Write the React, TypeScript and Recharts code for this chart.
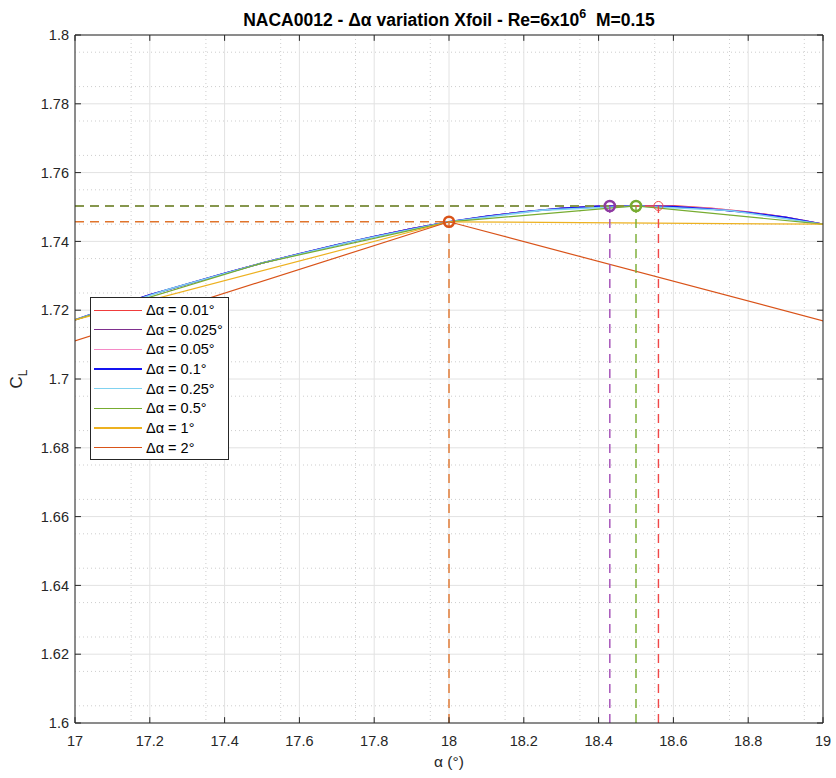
import React from 'react';
import {
  ComposedChart,
  Line,
  XAxis,
  YAxis,
  CartesianGrid,
  ReferenceLine,
  ReferenceDot,
  Legend,
  Label,
} from 'recharts';

const FONT = '"Liberation Sans", Arial, Helvetica, sans-serif';
const AXIS = '#262626';

// ---- axes ----
const xTicks = [17, 17.2, 17.4, 17.6, 17.8, 18, 18.2, 18.4, 18.6, 18.8, 19];
const yTicks = [1.6, 1.62, 1.64, 1.66, 1.68, 1.7, 1.72, 1.74, 1.76, 1.78, 1.8];
const xMinor = [
  17.05, 17.1, 17.15, 17.25, 17.3, 17.35, 17.45, 17.5, 17.55, 17.65, 17.7, 17.75,
  17.85, 17.9, 17.95, 18.05, 18.1, 18.15, 18.25, 18.3, 18.35, 18.45, 18.5, 18.55,
  18.65, 18.7, 18.75, 18.85, 18.9, 18.95,
];
const yMinor = [
  1.605, 1.61, 1.615, 1.625, 1.63, 1.635, 1.645, 1.65, 1.655, 1.665, 1.67, 1.675,
  1.685, 1.69, 1.695, 1.705, 1.71, 1.715, 1.725, 1.73, 1.735, 1.745, 1.75, 1.755,
  1.765, 1.77, 1.775, 1.785, 1.79, 1.795,
];

// ---- series data (alpha in deg, CL) ----
const alphaFine = [17, 17.1, 17.2, 17.3, 17.4, 17.5, 17.6, 17.7, 17.8, 17.9, 18, 18.1, 18.2, 18.3, 18.4, 18.5, 18.6, 18.7, 18.8, 18.9, 19];
const clDa001 = [1.7172, 1.7209, 1.7245, 1.7276, 1.7307, 1.7337, 1.7364, 1.739, 1.7414, 1.7437, 1.7457, 1.7473, 1.7486, 1.7496, 1.7502, 1.7504, 1.7504, 1.7497, 1.7486, 1.7471, 1.745];
const clDa0025 = [1.7172, 1.7209, 1.7245, 1.7276, 1.7307, 1.7337, 1.7364, 1.739, 1.7414, 1.7437, 1.7457, 1.7473, 1.7486, 1.7496, 1.7503, 1.7503, 1.75, 1.7494, 1.7484, 1.747, 1.745];
const clDa005 = [1.7172, 1.7209, 1.7245, 1.7276, 1.7307, 1.7337, 1.7364, 1.739, 1.7414, 1.7437, 1.7457, 1.7473, 1.7486, 1.7496, 1.7502, 1.7504, 1.7502, 1.7496, 1.7485, 1.7471, 1.745];
const clDa01 = [1.7172, 1.7209, 1.7245, 1.7276, 1.7307, 1.7337, 1.7364, 1.739, 1.7414, 1.7437, 1.7457, 1.7473, 1.7486, 1.7496, 1.7502, 1.7503, 1.7501, 1.7494, 1.7484, 1.747, 1.745];
const alphaQuarter = [17, 17.25, 17.5, 17.75, 18, 18.25, 18.5, 18.75, 19];
const clDa025 = [1.7172, 1.7261, 1.7337, 1.7402, 1.7457, 1.7491, 1.7503, 1.749, 1.745];
const alphaHalf = [17, 17.5, 18, 18.5, 19];
const clDa05 = [1.7172, 1.7337, 1.7457, 1.7503, 1.745];
const alphaOne = [17, 18, 19];
const clDa1 = [1.7172, 1.7457, 1.745];
const alphaTwo = [16, 18, 20];
const clDa2 = [1.6765, 1.7457, 1.6881];

const seriesNames = ['Δα = 0.01°', 'Δα = 0.025°', 'Δα = 0.05°', 'Δα = 0.1°', 'Δα = 0.25°', 'Δα = 0.5°', 'Δα = 1°', 'Δα = 2°'];
const seriesAlpha = [alphaFine, alphaFine, alphaFine, alphaFine, alphaQuarter, alphaHalf, alphaOne, alphaTwo];
const seriesCl = [clDa001, clDa0025, clDa005, clDa01, clDa025, clDa05, clDa1, clDa2];
const seriesColors = ['#F03C3C', '#7E2F8E', '#F58AC6', '#1414F0', '#80D2F0', '#77AC30', '#EDB120', '#D95319'];
const seriesWidths = [1.2, 1.2, 1.2, 1.6, 1.6, 1.2, 1.2, 1.2];

// ---- CL max markers ----
const peakAlpha = [18.56, 18.43, 18.5, 18];
const peakCl = [1.7503, 1.7503, 1.7503, 1.7457];
const peakColors = ['#F04848', '#8E3AA2', '#77AC30', '#D95319'];
const peakLineColors = ['#F04848', '#A24BB5', '#77AC30', '#E0742C'];
const peakStroke = [1, 2.6, 2.6, 2.6];

const toPoints = (a: number[], c: number[]) => a.map((v, i) => ({ a: v, cl: c[i] }));

const renderLegend = () => (
  <div
    style={{
      boxSizing: 'border-box',
      width: 139,
      height: 163,
      border: `1px solid ${AXIS}`,
      background: '#fff',
      position: 'relative',
      fontFamily: FONT,
      fontSize: 14.5,
      color: '#000',
    }}
  >
    {seriesNames.map((n, i) => (
      <div
        key={n}
        style={{ position: 'absolute', left: 0, top: 2 + i * 19.66, height: 20, width: 137 }}
      >
        <div
          style={{
            position: 'absolute',
            left: 3,
            top: 9.5,
            width: 48,
            height: 1.2,
            background: seriesColors[i],
          }}
        />
        <div style={{ position: 'absolute', left: 55, top: 1, lineHeight: '18px', whiteSpace: 'pre' }}>{n}</div>
      </div>
    ))}
  </div>
);

const renderYLabel = (props: any) => {
  const vb = props.viewBox || { x: 0, y: 35, width: 75, height: 688 };
  const cx = 22;
  const cy = vb.y + vb.height / 2;
  return (
    <text
      x={cx}
      y={cy}
      textAnchor="middle"
      transform={`rotate(-90 ${cx} ${cy})`}
      fill={AXIS}
      fontFamily={FONT}
      fontSize={17}
    >
      <tspan>C</tspan>
      <tspan fontSize={12} dy={5}>L</tspan>
    </text>
  );
};

export default function App() {
  const tickStyle = { fontSize: 14.5, fill: AXIS, fontFamily: FONT };
  const tx = 0.016;
  const ty = 0.0017;
  return (
    <div style={{ position: 'absolute', left: 0, top: 0, width: 836, height: 778, background: '#fff' }}>
      <ComposedChart width={836} height={778} margin={{ top: 35, right: 13, left: 0, bottom: 0 }}>
        <CartesianGrid
          verticalValues={xMinor}
          horizontalValues={yMinor}
          stroke="#cdcdcd"
          strokeDasharray="1 3"
          strokeWidth={1}
        />
        <CartesianGrid stroke="#e2e2e2" strokeWidth={1} />
        <XAxis
          dataKey="a"
          type="number"
          domain={[17, 19]}
          ticks={xTicks}
          allowDataOverflow
          height={55}
          tickLine={false}
          tickSize={0}
          tickMargin={13}
          axisLine={{ stroke: AXIS }}
          tick={tickStyle}
        >
          <Label value="α (°)" position="insideBottom" offset={11} style={{ fontSize: 15.5, fill: AXIS, fontFamily: FONT }} />
        </XAxis>
        <YAxis
          type="number"
          domain={[1.6, 1.8]}
          ticks={yTicks}
          allowDataOverflow
          width={75}
          tickLine={false}
          tickSize={0}
          tickMargin={6}
          axisLine={{ stroke: AXIS }}
          tick={tickStyle}
        >
          <Label content={renderYLabel} position="left" />
        </YAxis>

        {seriesNames.map((n, i) => (
          <Line
            key={n}
            name={n}
            data={toPoints(seriesAlpha[i], seriesCl[i])}
            dataKey="cl"
            type="linear"
            stroke={seriesColors[i]}
            strokeWidth={seriesWidths[i]}
            dot={false}
            activeDot={false}
            isAnimationActive={false}
          />
        ))}

        {/* dashed guide lines from CL max markers */}
        {peakAlpha.map((a, i) => (
          <ReferenceLine
            key={`v${i}`}
            segment={[{ x: a, y: 1.6 }, { x: a, y: peakCl[i] }]}
            stroke={peakLineColors[i]}
            strokeWidth={1.4}
            strokeDasharray="9 6"
          />
        ))}
        {peakAlpha.map((a, i) => (
          <ReferenceLine
            key={`h${i}`}
            segment={[{ x: 17, y: peakCl[i] }, { x: a, y: peakCl[i] }]}
            stroke={peakLineColors[i]}
            strokeWidth={1.4}
            strokeDasharray="9 6"
          />
        ))}
        {peakAlpha.map((a, i) => (
          <ReferenceDot
            key={`d${i}`}
            x={a}
            y={peakCl[i]}
            r={i === 0 ? 4.5 : 5}
            fill="none"
            stroke={peakColors[i]}
            strokeWidth={peakStroke[i]}
          />
        ))}

        {/* box and inward ticks */}
        <ReferenceLine x={19} stroke={AXIS} strokeWidth={1} />
        <ReferenceLine y={1.8} stroke={AXIS} strokeWidth={1} />
        {xTicks.map((t) => (
          <ReferenceLine key={`xb${t}`} segment={[{ x: t, y: 1.6 }, { x: t, y: 1.6 + ty }]} stroke={AXIS} />
        ))}
        {xTicks.map((t) => (
          <ReferenceLine key={`xt${t}`} segment={[{ x: t, y: 1.8 }, { x: t, y: 1.8 - ty }]} stroke={AXIS} />
        ))}
        {yTicks.map((t) => (
          <ReferenceLine key={`yl${t}`} segment={[{ x: 17, y: t }, { x: 17 + tx, y: t }]} stroke={AXIS} />
        ))}
        {yTicks.map((t) => (
          <ReferenceLine key={`yr${t}`} segment={[{ x: 19, y: t }, { x: 19 - tx, y: t }]} stroke={AXIS} />
        ))}

        <Legend
          layout="vertical"
          align="center"
          verticalAlign="middle"
          wrapperStyle={{ left: 90, top: 297, width: 139, height: 163 }}
          content={renderLegend}
        />
      </ComposedChart>
      <svg
        width={836}
        height={34}
        style={{ position: 'absolute', left: 0, top: 0, pointerEvents: 'none' }}
      >
        <text
          x={449}
          y={26}
          textAnchor="middle"
          fontFamily={FONT}
          fontWeight="bold"
          fontSize={17.5}
          fill="#000"
          style={{ whiteSpace: 'pre' }}
        >
          NACA0012 - Δα variation Xfoil - Re=6x10
          <tspan fontSize={12.5} dy={-8}>6</tspan>
          <tspan dy={8}>{'  M=0.15'}</tspan>
        </text>
      </svg>
    </div>
  );
}
